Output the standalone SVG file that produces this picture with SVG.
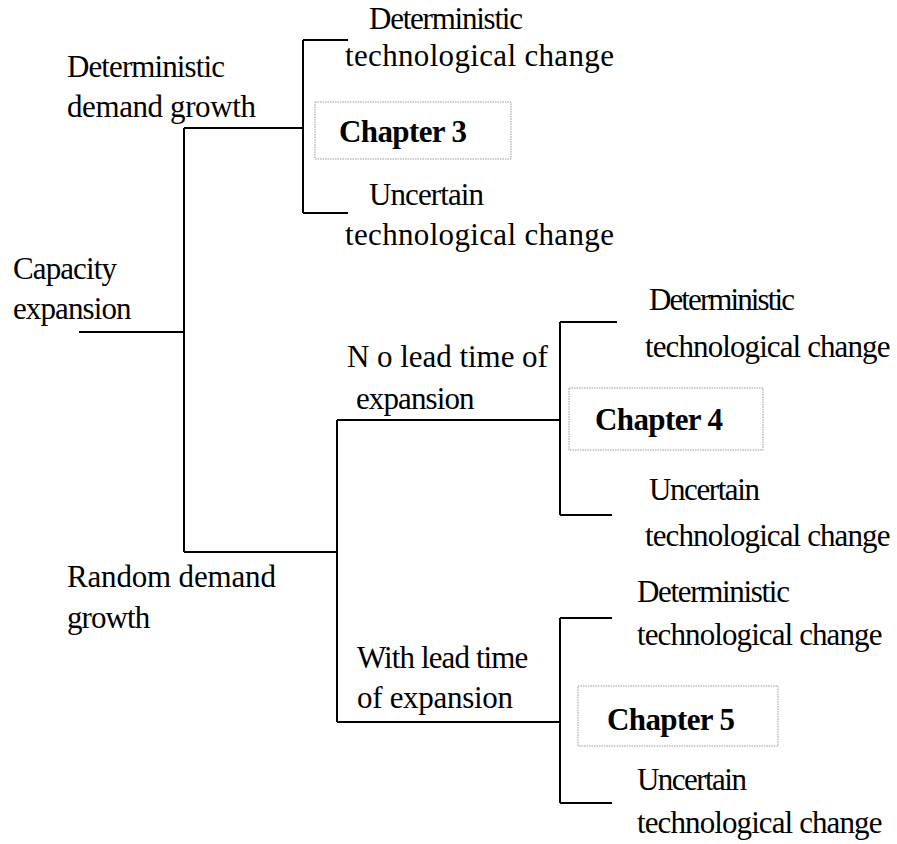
<svg xmlns="http://www.w3.org/2000/svg" width="897" height="844" viewBox="0 0 897 844">
<style>
text{font-size:31px;fill:#000;letter-spacing:-0.9px}
.ch{font-weight:bold;font-size:31px;letter-spacing:-0.6px}
.box{fill:none;stroke:#9a9a9a;stroke-width:1;stroke-dasharray:1.5 1}
.ln{fill:none;stroke:#000;stroke-width:2}
</style>
<rect width="897" height="844" fill="#fff"/>
<g id="connectors">
<path class="ln" d="M79,332H184M184,128V552M184,128H303M303,40V213M303,40H348M303,213H348"/>
<path class="ln" d="M184,552H337M337,420V722M337,420H560M560,322V515M560,322H617M560,515H612"/>
<path class="ln" d="M337,722H560M560,618V803M560,618H612M560,803H612"/>
</g>
<g font-family="'Liberation Serif', Tinos, 'Times New Roman', 'DejaVu Serif', serif">
<g id="root"><text x="13" y="279">Capacity</text><text x="13" y="319">expansion</text></g>
<g id="det-demand"><text x="67" y="77">Deterministic</text><text x="67" y="117" textLength="188">demand growth</text></g>
<g id="rand-demand"><text x="67" y="587" textLength="208">Random demand</text><text x="67" y="628">growth</text></g>
<g id="no-lead"><text x="347" y="367" textLength="200">N o lead time of</text><text x="356" y="409">expansion</text></g>
<g id="with-lead"><text x="357" y="668">With lead time</text><text x="357" y="708" textLength="155">of expansion</text></g>
<g id="g1-det"><text x="369" y="29" textLength="153">Deterministic</text><text x="345" y="66" textLength="268">technological change</text></g>
<g id="ch3"><rect class="box" x="315" y="102" width="196" height="57"/><text class="ch" x="339" y="142">Chapter 3</text></g>
<g id="g1-unc"><text x="369" y="205">Uncertain</text><text x="345" y="245" textLength="268">technological change</text></g>
<g id="g2-det"><text x="649" y="310" textLength="145">Deterministic</text><text x="645" y="357">technological change</text></g>
<g id="ch4"><rect class="box" x="569" y="388" width="194" height="62"/><text class="ch" x="595" y="430">Chapter 4</text></g>
<g id="g2-unc"><text x="649" y="500" textLength="110">Uncertain</text><text x="645" y="546">technological change</text></g>
<g id="g3-det"><text x="637" y="602" textLength="152">Deterministic</text><text x="637" y="645">technological change</text></g>
<g id="ch5"><rect class="box" x="578" y="686" width="200" height="60"/><text class="ch" x="607" y="730">Chapter 5</text></g>
<g id="g3-unc"><text x="637" y="790" textLength="109">Uncertain</text><text x="637" y="833">technological change</text></g>
</g>
</svg>
